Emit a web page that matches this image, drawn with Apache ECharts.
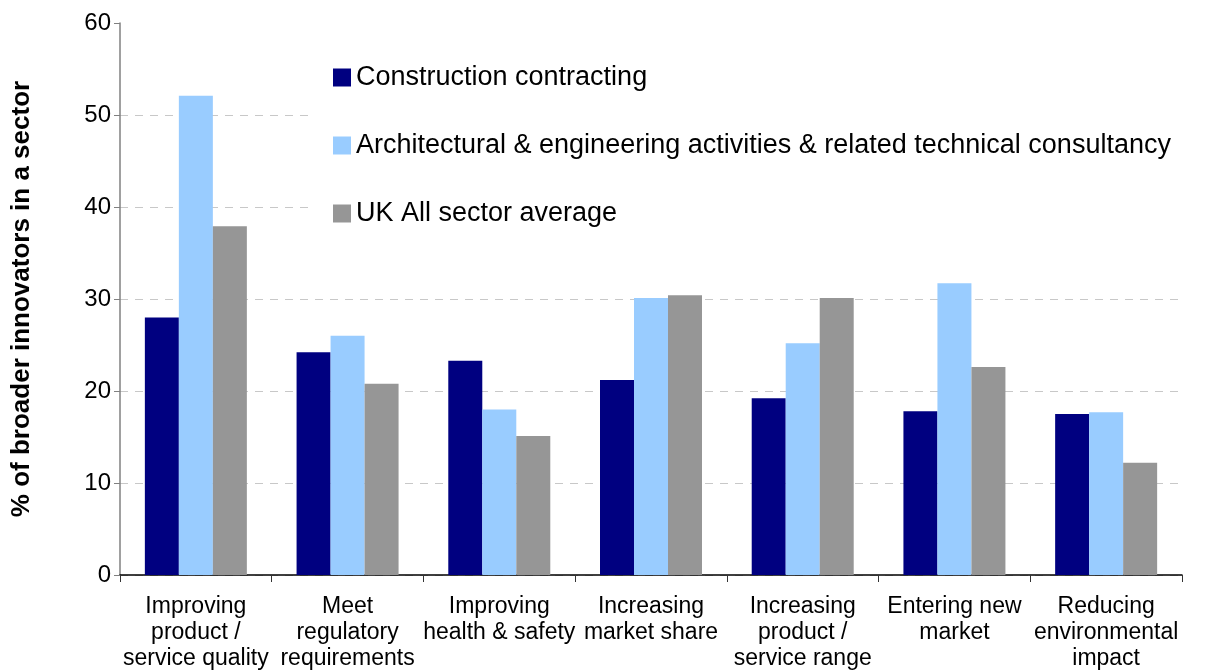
<!DOCTYPE html>
<html>
<head>
<meta charset="utf-8">
<script src="https://cdn.jsdelivr.net/npm/echarts@6/dist/echarts.min.js"></script>
<style>
  html, body { margin: 0; padding: 0; background: #fff; }
  #chart { width: 1210px; height: 672px; }
</style>
</head>
<body>
<div id="chart"></div>
<script>
const categories = [
  'Improving\nproduct /\nservice quality',
  'Meet\nregulatory\nrequirements',
  'Improving\nhealth & safety',
  'Increasing\nmarket share',
  'Increasing\nproduct /\nservice range',
  'Entering new\nmarket',
  'Reducing\nenvironmental\nimpact'
];
const seriesNames = [
  'Construction contracting',
  'Architectural & engineering activities & related technical consultancy',
  'UK All sector average'
];
const construction = [28.0, 24.2, 23.3, 21.2, 19.2, 17.8, 17.5];
const architectural = [52.1, 26.0, 18.0, 30.1, 25.2, 31.7, 17.7];
const ukAverage = [37.9, 20.8, 15.1, 30.4, 30.1, 22.6, 12.2];
const yTicks = { min: 0, max: 60, interval: 10 };
const yAxisName = '% of broader innovators in a sector';

const colors = ['#000080', '#99CCFF', '#969696'];
const font = 'Arial, "Liberation Sans", sans-serif';

const chart = echarts.init(document.getElementById('chart'));
chart.setOption({
  animation: false,
  backgroundColor: '#ffffff',
  grid: { left: 120, right: 28, top: 23, bottom: 96, containLabel: false },
  legend: {
    orient: 'vertical',
    left: 312,
    top: 40,
    padding: [24, 10, 20, 21],
    backgroundColor: '#ffffff',
    itemWidth: 18,
    itemHeight: 18,
    itemGap: 41,
    icon: 'rect',
    textStyle: { fontFamily: font, fontSize: 27, color: '#000', lineHeight: 27 },
    data: seriesNames
  },
  xAxis: {
    type: 'category',
    data: categories,
    axisLine: { show: true, lineStyle: { color: '#000', width: 1.5 } },
    axisTick: { show: true, length: 7, lineStyle: { color: '#333' }, alignWithLabel: false },
    axisLabel: {
      interval: 0,
      fontFamily: font,
      fontSize: 23,
      lineHeight: 26,
      color: '#000',
      margin: 19
    }
  },
  yAxis: {
    type: 'value',
    min: yTicks.min,
    max: yTicks.max,
    interval: yTicks.interval,
    name: yAxisName,
    nameLocation: 'middle',
    nameGap: 85,
    nameRotate: 90,
    nameTextStyle: { fontFamily: font, fontSize: 26, fontWeight: 'bold', color: '#000' },
    axisLine: { show: true, lineStyle: { color: '#808080', width: 1.5 } },
    axisTick: { show: true, length: 6, inside: false, lineStyle: { color: '#808080' } },
    axisLabel: { fontFamily: font, fontSize: 24, color: '#000', margin: 9 },
    splitLine: {
      show: true,
      showMaxLine: false,
      lineStyle: { color: '#c8c8c8', type: [8, 7], width: 1 }
    }
  },
  series: [
    { name: seriesNames[0], type: 'bar', data: construction, barWidth: 34, barGap: '0%', itemStyle: { color: colors[0] } },
    { name: seriesNames[1], type: 'bar', data: architectural, barWidth: 34, barGap: '0%', itemStyle: { color: colors[1] } },
    { name: seriesNames[2], type: 'bar', data: ukAverage, barWidth: 34, barGap: '0%', itemStyle: { color: colors[2] } }
  ]
});
</script>
</body>
</html>
